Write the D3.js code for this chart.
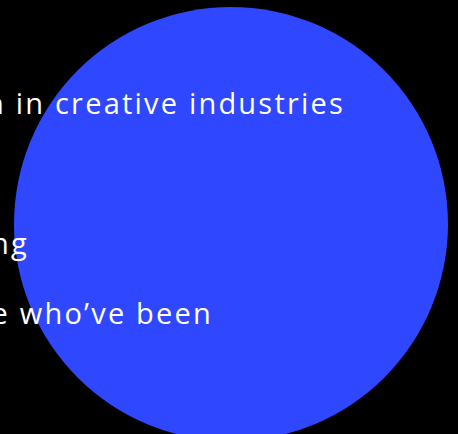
<!DOCTYPE html>
<html>
<head>
<meta charset="utf-8">
<script src="https://cdn.jsdelivr.net/npm/d3@7"></script>
<style>
  html, body { margin: 0; padding: 0; background: #000; overflow: hidden; }
  svg { display: block; }
</style>
</head>
<body>
<svg width="458" height="434"></svg>
<script>
// data
const labels = ["n in creative industries", "", "ng", "e who\u2019ve been"];
const labelEnds = [343, 0, 27, 211];   // right edge of each visible fragment
const bubbleValue = [100];

const W = 458, H = 434;
const svg = d3.select("svg");

svg.append("rect")
  .attr("width", W)
  .attr("height", H)
  .attr("fill", "#000");

// bubble size
const r = d3.scaleSqrt().domain([0, 100]).range([0, 217]);

svg.selectAll("circle.bubble")
  .data(bubbleValue)
  .join("circle")
  .attr("class", "bubble")
  .attr("cx", 231)
  .attr("cy", 224)
  .attr("r", d => r(d))
  .attr("fill", "#2f47ff");

// text lines
const y = d3.scaleBand().domain(d3.range(labels.length)).range([79, 359]);

svg.selectAll("text.label")
  .data(labels)
  .join("text")
  .attr("class", "label")
  .attr("x", (d, i) => labelEnds[i] + 2)
  .attr("y", (d, i) => y(i) + y.bandwidth() / 2)
  .attr("text-anchor", "end")
  .attr("fill", "#fff")
  .attr("font-family", "'Open Sans', sans-serif")
  .attr("font-size", 29)
  .attr("letter-spacing", 2.2)
  .text(d => d);
</script>
</body>
</html>
